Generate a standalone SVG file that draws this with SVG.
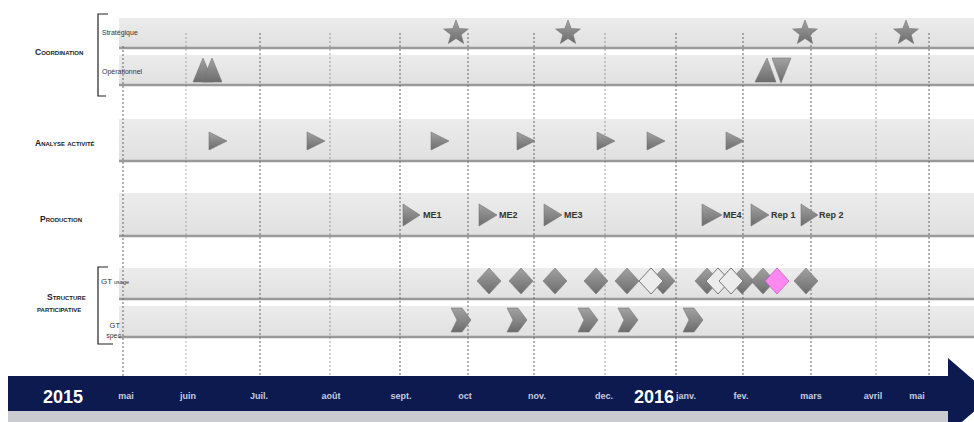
<svg xmlns="http://www.w3.org/2000/svg" width="974" height="422" viewBox="0 0 974 422">
<style>
.band{fill:#e4e4e4}
.bline{stroke:#9a9a9a;stroke-width:2.5}
.grid{stroke:#666;stroke-width:1;stroke-dasharray:2 2;fill:none}
.cat{font-family:"Liberation Sans",Arial,sans-serif;font-size:8.5px;font-weight:bold;font-variant:small-caps;fill:#222}
.sub{font-family:"Liberation Sans",Arial,sans-serif;font-size:7px;fill:#333}
.lbl{font-family:"Liberation Sans",Arial,sans-serif;font-size:9px;font-weight:bold;fill:#333}
.mon{font-family:"Liberation Sans",Arial,sans-serif;font-size:9px;font-weight:bold;fill:#c5cbe0;text-anchor:middle}
.yr{font-family:"Liberation Sans",Arial,sans-serif;font-size:18px;font-weight:bold;fill:#fff}
.shape{fill:url(#g);stroke:#777;stroke-width:0.6}
.brk{fill:none;stroke:#222;stroke-width:1.2}
</style>
<defs>
<linearGradient id="g" x1="0" y1="0" x2="0" y2="1"><stop offset="0" stop-color="#a2a2a2"/><stop offset="1" stop-color="#6c6c6c"/></linearGradient>
<linearGradient id="bg" x1="0" y1="0" x2="0" y2="1"><stop offset="0" stop-color="#ececec"/><stop offset="1" stop-color="#e0e0e0"/></linearGradient>
<path id="star" d="M0,-13 L3.23,-4.45 L12.36,-4.02 L5.23,1.7 L7.64,10.52 L0,5.5 L-7.64,10.52 L-5.23,1.7 L-12.36,-4.02 L-3.23,-4.45 Z"/>
<path id="dia" d="M0,-13 L12,0 L0,13 L-12,0 Z"/>
<path id="chev" d="M-10,-12 L1,-12 L10,0 L1,12 L-10,12 L-4,0 Z"/>
<path id="play" d="M0,-9 L18,0 L0,9 Z"/>
</defs>
<rect width="974" height="422" fill="#fff"/>

<g id="bands">
<rect x="119" y="18" width="855" height="31" fill="url(#bg)"/><line class="bline" x1="119" y1="48" x2="974" y2="48"/>
<rect x="119" y="55" width="855" height="31" fill="url(#bg)"/><line class="bline" x1="119" y1="85" x2="974" y2="85"/>
<rect x="119" y="119" width="855" height="43" fill="url(#bg)"/><line class="bline" x1="119" y1="161" x2="974" y2="161"/>
<rect x="119" y="193" width="855" height="44" fill="url(#bg)"/><line class="bline" x1="119" y1="236" x2="974" y2="236"/>
<rect x="119" y="268" width="855" height="32" fill="url(#bg)"/><line class="bline" x1="119" y1="299" x2="974" y2="299"/>
<rect x="119" y="306" width="855" height="32" fill="url(#bg)"/><line class="bline" x1="119" y1="337" x2="974" y2="337"/>
</g>

<g id="grid">
<line class="grid" x1="123" y1="46" x2="123" y2="376"/>
<line class="grid" x1="186" y1="33" x2="186" y2="376" opacity="0.5"/>
<line class="grid" x1="260" y1="33" x2="260" y2="376"/>
<line class="grid" x1="330" y1="33" x2="330" y2="376" opacity="0.6"/>
<line class="grid" x1="400" y1="33" x2="400" y2="376"/>
<line class="grid" x1="468" y1="33" x2="468" y2="376"/>
<line class="grid" x1="534" y1="33" x2="534" y2="376"/>
<line class="grid" x1="605" y1="33" x2="605" y2="376" opacity="0.6"/>
<line class="grid" x1="676" y1="33" x2="676" y2="376"/>
<line class="grid" x1="743" y1="33" x2="743" y2="376"/>
<line class="grid" x1="811" y1="33" x2="811" y2="376"/>
<line class="grid" x1="876" y1="33" x2="876" y2="376" opacity="0.6"/>
<line class="grid" x1="929" y1="33" x2="929" y2="376"/>
</g>

<g id="labels">
<text class="cat" x="35" y="55">Coordination</text>
<text class="cat" x="35" y="146">Analyse activité</text>
<text class="cat" x="40" y="222">Production</text>
<text class="cat" x="47" y="300">Structure</text>
<text class="cat" x="37" y="312">participative</text>
<text class="sub" x="102" y="35">Stratégique</text>
<text class="sub" x="102" y="74">Opérationnel</text>
<text class="sub" x="101" y="284"><tspan font-size="8">GT</tspan> <tspan font-size="5.5">usage</tspan></text>
<text class="sub" x="120" y="328" text-anchor="end"><tspan font-size="7.5">GT</tspan></text>
<text class="sub" x="121" y="338" text-anchor="end" font-size="6">spec</text>
<path class="brk" d="M108,14 H98 V96 H106"/>
<path class="brk" d="M108,267 H98 V344 H113"/>
</g>

<g id="coordination">
<use href="#star" x="456" y="33" class="shape"/>
<use href="#star" x="568" y="33" class="shape"/>
<use href="#star" x="805" y="33" class="shape"/>
<use href="#star" x="906" y="33" class="shape"/>
<path class="shape" d="M193,82 L203,58 L213,82 Z"/>
<path class="shape" d="M202,82 L212,58 L222,82 Z"/>
<path class="shape" d="M755,82 L767,58 L776,82 Z" stroke="#fff" stroke-width="1.5"/>
<path class="shape" d="M772,58 L791,58 L781,83 Z" stroke="#fff" stroke-width="1.5"/>
</g>

<g id="analyse">
<use href="#play" x="209" y="141" class="shape"/>
<use href="#play" x="307" y="141" class="shape"/>
<use href="#play" x="431" y="141" class="shape"/>
<use href="#play" x="517" y="141" class="shape"/>
<use href="#play" x="597" y="141" class="shape"/>
<use href="#play" x="647" y="141" class="shape"/>
<use href="#play" x="726" y="141" class="shape"/>
</g>

<g id="production">
<path class="shape" d="M403,204 L420,215 L403,226 Z"/><text class="lbl" x="423" y="218">ME1</text>
<path class="shape" d="M479,204 L497,215 L479,226 Z"/><text class="lbl" x="499" y="218">ME2</text>
<path class="shape" d="M544,204 L562,215 L544,226 Z"/><text class="lbl" x="564" y="218">ME3</text>
<path class="shape" d="M702,204 L722,215 L702,226 Z"/><text class="lbl" x="723" y="218">ME4</text>
<path class="shape" d="M751,204 L769,215 L751,226 Z"/><text class="lbl" x="771" y="218">Rep 1</text>
<path class="shape" d="M801,204 L818,215 L801,226 Z"/><text class="lbl" x="819" y="218">Rep 2</text>
</g>

<g id="gt-usage">
<use href="#dia" x="489" y="281" class="shape"/>
<use href="#dia" x="521" y="281" class="shape"/>
<use href="#dia" x="555" y="281" class="shape"/>
<use href="#dia" x="596" y="281" class="shape"/>
<use href="#dia" x="627" y="281" class="shape"/>
<use href="#dia" x="663" y="281" class="shape"/>
<use href="#dia" x="651" y="281" fill="#ececec" stroke="#777" stroke-width="1"/>
<use href="#dia" x="707" y="281" class="shape"/>
<use href="#dia" x="742" y="281" class="shape"/>
<use href="#dia" x="718" y="281" fill="#ececec" stroke="#777" stroke-width="1"/>
<use href="#dia" x="731" y="281" fill="#ececec" stroke="#777" stroke-width="1"/>
<use href="#dia" x="763" y="281" class="shape"/>
<use href="#dia" x="777" y="281" fill="#ff88f0" stroke="#c060c0" stroke-width="0.8"/>
<use href="#dia" x="806" y="281" class="shape"/>
</g>

<g id="gt-spec">
<use href="#chev" x="461" y="320" class="shape"/>
<use href="#chev" x="517" y="320" class="shape"/>
<use href="#chev" x="588" y="320" class="shape"/>
<use href="#chev" x="628" y="320" class="shape"/>
<use href="#chev" x="693" y="320" class="shape"/>
</g>

<g id="timeline">
<rect x="8" y="411" width="942" height="11" fill="#c9cbd0"/>
<path d="M8,376 H948 V358 L992,396 L948,434 V411 H8 Z" fill="#0c1a50"/>
<text class="yr" x="43" y="403">2015</text>
<text class="yr" x="634" y="403">2016</text>
<text class="mon" x="126" y="399">mai</text>
<text class="mon" x="188" y="399">juin</text>
<text class="mon" x="259" y="399">Juil.</text>
<text class="mon" x="331" y="399">août</text>
<text class="mon" x="401" y="399">sept.</text>
<text class="mon" x="465" y="399">oct</text>
<text class="mon" x="537" y="399">nov.</text>
<text class="mon" x="604" y="399">dec.</text>
<text class="mon" x="686" y="399">janv.</text>
<text class="mon" x="741" y="399">fev.</text>
<text class="mon" x="811" y="399">mars</text>
<text class="mon" x="873" y="399">avril</text>
<text class="mon" x="917" y="399">mai</text>
</g>
</svg>
